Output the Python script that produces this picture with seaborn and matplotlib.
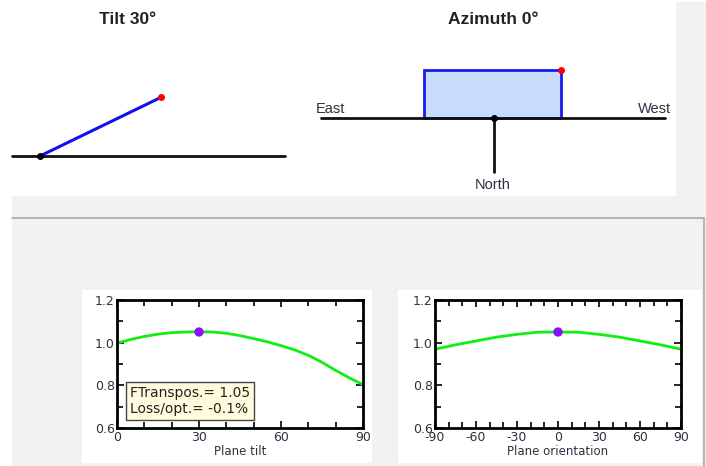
import numpy as np
import pandas as pd
import matplotlib
matplotlib.use("Agg")
import matplotlib.pyplot as plt
import seaborn as sns
from matplotlib.patches import Rectangle, Polygon
from matplotlib.ticker import MultipleLocator, FormatStrFormatter

# ---------------- data ----------------
tilt_deg = [0, 5, 10, 15, 20, 25, 30, 35, 40, 45, 50, 55, 60, 65, 70, 75, 80, 85, 90]
tilt_factor = [0.998, 1.015, 1.029, 1.040, 1.047, 1.050, 1.051, 1.050, 1.044, 1.033, 1.019,
               1.004, 0.986, 0.966, 0.941, 0.908, 0.870, 0.835, 0.803]
azim_deg = [-90, -75, -60, -45, -30, -15, 0, 15, 30, 45, 60, 75, 90]
azim_factor = [0.969, 0.990, 1.008, 1.026, 1.039, 1.049, 1.050, 1.049, 1.039, 1.026, 1.008, 0.990, 0.969]
current_tilt = 30
current_azim = 0
current_factor = 1.05
info_lines = ["FTranspos.= 1.05", "Loss/opt.= -0.1%"]
tilt_title = "Tilt 30°"
azim_title = "Azimuth 0°"

sns.set_theme(style="white")
plt.rcParams['font.family'] = ['Liberation Sans', 'DejaVu Sans']
plt.rcParams['axes.unicode_minus'] = False

W, H = 706, 466
fig = plt.figure(figsize=(W / 100, H / 100), dpi=100)
fig.patch.set_facecolor("white")

def ax_at(x0, y0, x1, y1):
    return fig.add_axes([x0 / W, 1 - y1 / H, (x1 - x0) / W, (y1 - y0) / H])

# background canvas in pixel coordinates
bg = ax_at(0, 0, W, H)
bg.set_xlim(0, W)
bg.set_ylim(H, 0)
bg.axis("off")
gray = "#f2f2f2"
bg.add_patch(Rectangle((676, 2), 30, 196, facecolor=gray, edgecolor="none"))
bg.add_patch(Rectangle((12, 196), 694, 270, facecolor=gray, edgecolor="none"))
bg.plot([12, 704, 704], [218, 218, 466], color="#a8a8a8", lw=1.2)
bg.add_patch(Rectangle((82, 290), 290, 173, facecolor="white", edgecolor="none"))
bg.add_patch(Rectangle((398, 290), 304, 173, facecolor="white", edgecolor="none"))

txtc = "#303040"
# ---- tilt diagram ----
bg.text(128, 20, tilt_title, ha="center", va="center", fontsize=12.5, fontweight="bold", color="#222222")
pivot = (40, 156)
L = 140
squash = 0.84
ang = np.radians(current_tilt)
end = (pivot[0] + L * np.cos(ang), pivot[1] - L * np.sin(ang) * squash)
bg.plot([12, 285], [156, 156], color="#111111", lw=2)
bg.plot([pivot[0], end[0]], [pivot[1], end[1]], color="#1010ee", lw=2.2)
bg.plot(*pivot, "o", color="black", ms=4)
bg.plot(*end, "o", color="red", ms=4)

# ---- azimuth diagram ----
bg.text(493, 20, azim_title, ha="center", va="center", fontsize=12.5, fontweight="bold", color="#222222")
ap = np.array([494, 118])
a = np.radians(current_azim)
rot = np.array([[np.cos(a), -np.sin(a)], [np.sin(a), np.cos(a)]])
corners = np.array([[-70, 0], [67, 0], [67, -48], [-70, -48]]) @ rot.T + ap
bg.plot([321, 665], [118, 118], color="#111111", lw=2)
bg.add_patch(Polygon(corners, closed=True, facecolor="#c6dcfa", edgecolor="#1a1aee", lw=2))
north = np.array([0, 54]) @ rot.T + ap
bg.plot([ap[0], north[0]], [ap[1], north[1]], color="#111111", lw=2)
bg.plot(*ap, "o", color="black", ms=4)
bg.plot(*corners[2], "o", color="red", ms=4)
bg.text(330, 109, "East", ha="center", va="center", fontsize=10.5, color=txtc)
bg.text(655, 109, "West", ha="center", va="center", fontsize=10.5, color=txtc)
bg.text(493, 185, "North", ha="center", va="center", fontsize=10.5, color=txtc)

# ---- charts ----
df_t = pd.DataFrame({"x": tilt_deg, "y": tilt_factor})
df_a = pd.DataFrame({"x": azim_deg, "y": azim_factor})
chart_font = ['DejaVu Sans']

def style(ax, xmin, xmax, xmaj, label):
    ax.set_xlim(xmin, xmax)
    ax.set_ylim(0.6, 1.2)
    ax.xaxis.set_major_locator(MultipleLocator(xmaj))
    ax.xaxis.set_minor_locator(MultipleLocator(10))
    ax.yaxis.set_major_locator(MultipleLocator(0.2))
    ax.yaxis.set_minor_locator(MultipleLocator(0.1))
    ax.yaxis.set_major_formatter(FormatStrFormatter("%.1f"))
    ax.tick_params(which="both", direction="in", top=True, right=True, bottom=True, left=True,
                   color="black", width=1.2, labelsize=9, labelcolor=txtc)
    ax.tick_params(axis="x", which="major", length=5, pad=2.5)
    ax.tick_params(axis="y", which="major", length=5, pad=1.5)
    ax.tick_params(which="minor", length=4)
    for lab in ax.get_xticklabels() + ax.get_yticklabels():
        lab.set_family(chart_font)
    for s in ax.spines.values():
        s.set_visible(True)
        s.set_color("black")
        s.set_linewidth(2)
    ax.set_xlabel(label, fontsize=8.5, color=txtc, labelpad=0.5, family=chart_font)
    ax.set_ylabel("")
    ax.set_facecolor("white")

ax1 = ax_at(117, 300, 363, 428)
sns.lineplot(data=df_t, x="x", y="y", ax=ax1, color="#11ee11", lw=2)
sns.scatterplot(x=[current_tilt], y=[current_factor], ax=ax1, color="#8a10ff", s=45,
                edgecolor="none", zorder=5, clip_on=False)
style(ax1, 0, 90, 30, "Plane tilt")
ax1.text(0.052, 0.095, "\n".join(info_lines), transform=ax1.transAxes, fontsize=10,
         color="#222222", va="bottom", ha="left", linespacing=1.15, family=chart_font,
         bbox=dict(boxstyle="square,pad=0.3", facecolor="#fffbdc", edgecolor="#444444", lw=1))

ax2 = ax_at(435, 300, 681, 428)
sns.lineplot(data=df_a, x="x", y="y", ax=ax2, color="#11ee11", lw=2)
sns.scatterplot(x=[current_azim], y=[current_factor], ax=ax2, color="#8a10ff", s=45,
                edgecolor="none", zorder=5, clip_on=False)
style(ax2, -90, 90, 30, "Plane orientation")

fig.savefig("out.png", dpi=100, facecolor=fig.get_facecolor())
